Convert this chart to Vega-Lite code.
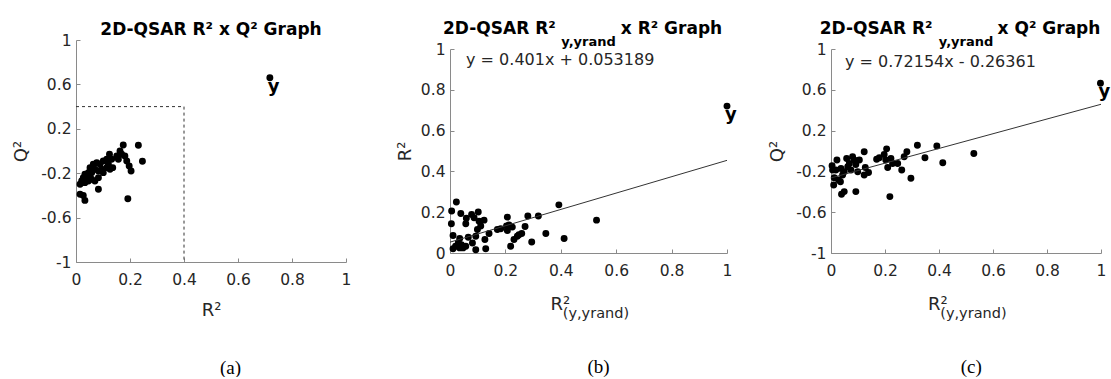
{
  "$schema": "https://vega.github.io/schema/vega-lite/v6.json",
  "background": "white",
  "padding": {"left": 12, "top": 20, "right": 0, "bottom": 0},
  "autosize": {"type": "pad"},
  "bounds": "flush",
  "center": true,
  "spacing": 104,
  "datasets": {
    "a": [
      {"r2": 0.175, "q2": 0.054}, {"r2": 0.231, "q2": 0.051}, {"r2": 0.246, "q2": -0.093}, {"r2": 0.163, "q2": 0.0},
      {"r2": 0.169, "q2": -0.03}, {"r2": 0.181, "q2": -0.045}, {"r2": 0.188, "q2": -0.09}, {"r2": 0.197, "q2": -0.135},
      {"r2": 0.204, "q2": -0.18}, {"r2": 0.192, "q2": -0.43}, {"r2": 0.124, "q2": -0.03}, {"r2": 0.132, "q2": -0.075},
      {"r2": 0.114, "q2": -0.075}, {"r2": 0.101, "q2": -0.09}, {"r2": 0.136, "q2": -0.15}, {"r2": 0.12, "q2": -0.12},
      {"r2": 0.089, "q2": -0.12}, {"r2": 0.077, "q2": -0.105}, {"r2": 0.064, "q2": -0.12}, {"r2": 0.095, "q2": -0.165},
      {"r2": 0.101, "q2": -0.195}, {"r2": 0.07, "q2": -0.165}, {"r2": 0.052, "q2": -0.15}, {"r2": 0.046, "q2": -0.195},
      {"r2": 0.033, "q2": -0.21}, {"r2": 0.027, "q2": -0.24}, {"r2": 0.021, "q2": -0.27}, {"r2": 0.033, "q2": -0.285},
      {"r2": 0.046, "q2": -0.27}, {"r2": 0.058, "q2": -0.255}, {"r2": 0.07, "q2": -0.27}, {"r2": 0.015, "q2": -0.3},
      {"r2": 0.04, "q2": -0.225}, {"r2": 0.083, "q2": -0.345}, {"r2": 0.015, "q2": -0.39}, {"r2": 0.027, "q2": -0.4},
      {"r2": 0.033, "q2": -0.445}, {"r2": 0.058, "q2": -0.195}, {"r2": 0.083, "q2": -0.18}, {"r2": 0.114, "q2": -0.15},
      {"r2": 0.151, "q2": -0.045}, {"r2": 0.157, "q2": -0.075}, {"r2": 0.126, "q2": -0.165}, {"r2": 0.083, "q2": -0.24},
      {"r2": 0.718, "q2": 0.66, "label": "y"}
    ],
    "aBox": [
      {"r2": 0.0, "q2": 0.4, "o": 1}, {"r2": 0.4, "q2": 0.4, "o": 2}, {"r2": 0.4, "q2": -1.0, "o": 3}
    ],
    "b": [
      {"rr": 0.006, "r2": 0.206}, {"rr": 0.023, "r2": 0.25}, {"rr": 0.005, "r2": 0.143}, {"rr": 0.011, "r2": 0.086},
      {"rr": 0.011, "r2": 0.021}, {"rr": 0.039, "r2": 0.194}, {"rr": 0.059, "r2": 0.17}, {"rr": 0.057, "r2": 0.143},
      {"rr": 0.078, "r2": 0.189}, {"rr": 0.087, "r2": 0.173}, {"rr": 0.102, "r2": 0.201}, {"rr": 0.105, "r2": 0.156},
      {"rr": 0.099, "r2": 0.115}, {"rr": 0.093, "r2": 0.082}, {"rr": 0.081, "r2": 0.049}, {"rr": 0.093, "r2": 0.016},
      {"rr": 0.066, "r2": 0.077}, {"rr": 0.035, "r2": 0.071}, {"rr": 0.041, "r2": 0.041}, {"rr": 0.03, "r2": 0.051},
      {"rr": 0.047, "r2": 0.025}, {"rr": 0.02, "r2": 0.033}, {"rr": 0.035, "r2": 0.025}, {"rr": 0.057, "r2": 0.033},
      {"rr": 0.123, "r2": 0.161}, {"rr": 0.126, "r2": 0.066}, {"rr": 0.129, "r2": 0.021}, {"rr": 0.141, "r2": 0.096},
      {"rr": 0.111, "r2": 0.132}, {"rr": 0.171, "r2": 0.115}, {"rr": 0.183, "r2": 0.119}, {"rr": 0.207, "r2": 0.176},
      {"rr": 0.204, "r2": 0.132}, {"rr": 0.213, "r2": 0.137}, {"rr": 0.207, "r2": 0.11}, {"rr": 0.219, "r2": 0.033},
      {"rr": 0.225, "r2": 0.127}, {"rr": 0.231, "r2": 0.066}, {"rr": 0.243, "r2": 0.082}, {"rr": 0.259, "r2": 0.096},
      {"rr": 0.271, "r2": 0.13}, {"rr": 0.281, "r2": 0.181}, {"rr": 0.295, "r2": 0.054}, {"rr": 0.319, "r2": 0.181},
      {"rr": 0.346, "r2": 0.096}, {"rr": 0.393, "r2": 0.236}, {"rr": 0.412, "r2": 0.071}, {"rr": 0.529, "r2": 0.161},
      {"rr": 0.249, "r2": 0.09},
      {"rr": 1.0, "r2": 0.72, "label": "y"}
    ],
    "bLine": [{"rr": 0.0, "r2": 0.053189}, {"rr": 1.0, "r2": 0.454189}],
    "bEq": [{"rr": 0.058, "r2": 0.92, "t": "y = 0.401x + 0.053189"}],
    "c": [
      {"rr": 0.004, "q2": -0.145}, {"rr": 0.006, "q2": -0.187}, {"rr": 0.022, "q2": -0.089}, {"rr": 0.012, "q2": -0.262},
      {"rr": 0.01, "q2": -0.333}, {"rr": 0.028, "q2": -0.285}, {"rr": 0.035, "q2": -0.301}, {"rr": 0.037, "q2": -0.171},
      {"rr": 0.043, "q2": -0.236}, {"rr": 0.049, "q2": -0.203}, {"rr": 0.039, "q2": -0.424}, {"rr": 0.049, "q2": -0.398},
      {"rr": 0.058, "q2": -0.073}, {"rr": 0.062, "q2": -0.154}, {"rr": 0.068, "q2": -0.122}, {"rr": 0.08, "q2": -0.057},
      {"rr": 0.086, "q2": -0.089}, {"rr": 0.074, "q2": -0.187}, {"rr": 0.092, "q2": -0.132}, {"rr": 0.099, "q2": -0.203},
      {"rr": 0.092, "q2": -0.398}, {"rr": 0.105, "q2": -0.089}, {"rr": 0.123, "q2": -0.008}, {"rr": 0.127, "q2": -0.161},
      {"rr": 0.123, "q2": -0.236}, {"rr": 0.139, "q2": -0.21}, {"rr": 0.169, "q2": -0.08}, {"rr": 0.179, "q2": -0.067},
      {"rr": 0.197, "q2": -0.034}, {"rr": 0.206, "q2": 0.021}, {"rr": 0.21, "q2": -0.161}, {"rr": 0.222, "q2": -0.073},
      {"rr": 0.228, "q2": -0.122}, {"rr": 0.247, "q2": -0.122}, {"rr": 0.262, "q2": -0.187}, {"rr": 0.271, "q2": -0.057},
      {"rr": 0.281, "q2": -0.008}, {"rr": 0.296, "q2": -0.268}, {"rr": 0.32, "q2": 0.057}, {"rr": 0.348, "q2": -0.067},
      {"rr": 0.392, "q2": 0.05}, {"rr": 0.414, "q2": -0.115}, {"rr": 0.529, "q2": -0.024}, {"rr": 0.218, "q2": -0.447},
      {"rr": 0.203, "q2": -0.089}, {"rr": 0.018, "q2": -0.187},
      {"rr": 0.998, "q2": 0.665, "label": "y"}
    ],
    "cLine": [{"rr": 0.0, "q2": -0.26361}, {"rr": 1.0, "q2": 0.45793}],
    "cEq": [{"rr": 0.052, "q2": 0.824, "t": "y = 0.72154x - 0.26361"}]
  },
  "hconcat": [
    {
      "width": 270, "height": 222,
      "title": {"text": "2D-QSAR R² x Q² Graph", "offset": -6},
      "resolve": {"axis": {"x": "independent"}},
      "layer": [
        {
          "data": {"name": "a"},
          "mark": {"type": "circle", "size": 48, "color": "#000", "opacity": 1},
          "encoding": {
            "x": {"field": "r2", "type": "quantitative", "scale": {"domain": [0, 1], "nice": false, "zero": false},
                  "axis": {"orient": "bottom", "values": [0, 0.2, 0.4, 0.6, 0.8, 1], "labelExpr": "'' + datum.value", "labelPadding": 14, "title": "R²", "titlePadding": 14}},
            "y": {"field": "q2", "type": "quantitative", "scale": {"domain": [-1, 1], "nice": false, "zero": false},
                  "axis": {"values": [-1, -0.6, -0.2, 0.2, 0.6, 1], "labelExpr": "'' + datum.value", "labelPadding": 9, "title": "Q²", "titlePadding": 10}}
          }
        },
        {
          "data": {"name": "aBox"},
          "mark": {"type": "line", "color": "#333", "strokeWidth": 1, "strokeDash": [3, 3]},
          "encoding": {
            "x": {"field": "r2", "type": "quantitative",
                  "axis": {"orient": "bottom", "labels": false, "ticks": false, "domain": false, "title": "\u200b\u00a0\u00a0\u00a0\u00a0\u00a0\u00a0\u00a0\u00a0(a)", "titleFont": "Liberation Serif", "titleFontSize": 19, "titleColor": "#000", "titlePadding": 96}},
            "y": {"field": "q2", "type": "quantitative"},
            "order": {"field": "o", "type": "quantitative"}
          }
        },
        {
          "data": {"name": "a"},
          "transform": [{"filter": "datum.label == 'y'"}],
          "mark": {"type": "text", "align": "left", "baseline": "alphabetic", "dx": -2, "dy": 14, "font": "DejaVu Sans", "fontSize": 18, "fontWeight": "bold", "color": "#000"},
          "encoding": {
            "x": {"field": "r2", "type": "quantitative", "axis": null},
            "y": {"field": "q2", "type": "quantitative"},
            "text": {"field": "label"}
          }
        }
      ]
    },
    {
      "width": 277, "height": 204,
      "title": {"text": "2D-QSAR R²\u00a0\u00a0\u00a0\u00a0\u00a0\u00a0\u00a0\u00a0\u00a0\u00a0\u00a0x R² Graph\u00a0\u00a0\u200b", "subtitle": "y,yrand", "offset": -8, "subtitlePadding": -2},
      "resolve": {"axis": {"x": "independent"}},
      "layer": [
        {
          "data": {"name": "b"},
          "mark": {"type": "circle", "size": 48, "color": "#000", "opacity": 1},
          "encoding": {
            "x": {"field": "rr", "type": "quantitative", "scale": {"domain": [0, 1], "nice": false, "zero": false},
                  "axis": {"orient": "bottom", "values": [0, 0.2, 0.4, 0.6, 0.8, 1], "labelExpr": "'' + datum.value", "labelPadding": 14, "title": "R²\u00a0\u00a0\u00a0\u00a0\u00a0\u00a0\u00a0\u00a0\u00a0\u00a0\u200b", "titlePadding": 17}},
            "y": {"field": "r2", "type": "quantitative", "scale": {"domain": [0, 1], "nice": false, "zero": false},
                  "axis": {"values": [0, 0.2, 0.4, 0.6, 0.8, 1], "labelExpr": "'' + datum.value", "labelPadding": 9, "title": "R²", "titlePadding": 6}}
          }
        },
        {
          "data": {"name": "bLine"},
          "mark": {"type": "line", "color": "#333", "strokeWidth": 1},
          "encoding": {
            "x": {"field": "rr", "type": "quantitative",
                  "axis": {"orient": "bottom", "labels": false, "ticks": false, "domain": false, "title": "\u200b\u00a0\u00a0\u00a0(y,yrand)", "titleFontSize": 14.5, "titlePadding": 53}},
            "y": {"field": "r2", "type": "quantitative"}
          }
        },
        {
          "data": {"name": "bEq"},
          "mark": {"type": "text", "align": "left", "baseline": "alphabetic", "font": "DejaVu Sans", "fontSize": 16, "color": "#262626"},
          "encoding": {
            "x": {"field": "rr", "type": "quantitative",
                  "axis": {"orient": "bottom", "labels": false, "ticks": false, "domain": false, "title": "\u200b\u00a0\u00a0\u00a0\u00a0(b)", "titleFont": "Liberation Serif", "titleFontSize": 19, "titleColor": "#000", "titlePadding": 104}},
            "y": {"field": "r2", "type": "quantitative"},
            "text": {"field": "t"}
          }
        },
        {
          "data": {"name": "b"},
          "transform": [{"filter": "datum.label == 'y'"}],
          "mark": {"type": "text", "align": "left", "baseline": "alphabetic", "dx": -2, "dy": 14, "font": "DejaVu Sans", "fontSize": 18, "fontWeight": "bold", "color": "#000"},
          "encoding": {
            "x": {"field": "rr", "type": "quantitative", "axis": null},
            "y": {"field": "r2", "type": "quantitative"},
            "text": {"field": "label"}
          }
        }
      ]
    },
    {
      "width": 270, "height": 204,
      "title": {"text": "2D-QSAR R²\u00a0\u00a0\u00a0\u00a0\u00a0\u00a0\u00a0\u00a0\u00a0\u00a0\u00a0x Q² Graph\u00a0\u00a0\u200b", "subtitle": "y,yrand", "offset": -8, "subtitlePadding": -2},
      "resolve": {"axis": {"x": "independent"}},
      "layer": [
        {
          "data": {"name": "c"},
          "mark": {"type": "circle", "size": 48, "color": "#000", "opacity": 1},
          "encoding": {
            "x": {"field": "rr", "type": "quantitative", "scale": {"domain": [0, 1], "nice": false, "zero": false},
                  "axis": {"orient": "bottom", "values": [0, 0.2, 0.4, 0.6, 0.8, 1], "labelExpr": "'' + datum.value", "labelPadding": 14, "title": "R²\u00a0\u00a0\u00a0\u00a0\u00a0\u00a0\u00a0\u00a0\u00a0\u00a0\u200b", "titlePadding": 17}},
            "y": {"field": "q2", "type": "quantitative", "scale": {"domain": [-1, 1], "nice": false, "zero": false},
                  "axis": {"values": [-1, -0.6, -0.2, 0.2, 0.6, 1], "labelExpr": "'' + datum.value", "labelPadding": 9, "title": "Q²", "titlePadding": 9}}
          }
        },
        {
          "data": {"name": "cLine"},
          "mark": {"type": "line", "color": "#333", "strokeWidth": 1},
          "encoding": {
            "x": {"field": "rr", "type": "quantitative",
                  "axis": {"orient": "bottom", "labels": false, "ticks": false, "domain": false, "title": "\u200b\u00a0\u00a0\u00a0(y,yrand)", "titleFontSize": 14.5, "titlePadding": 53}},
            "y": {"field": "q2", "type": "quantitative"}
          }
        },
        {
          "data": {"name": "cEq"},
          "mark": {"type": "text", "align": "left", "baseline": "alphabetic", "font": "DejaVu Sans", "fontSize": 16, "color": "#262626"},
          "encoding": {
            "x": {"field": "rr", "type": "quantitative",
                  "axis": {"orient": "bottom", "labels": false, "ticks": false, "domain": false, "title": "\u200b\u00a0\u00a0(c)", "titleFont": "Liberation Serif", "titleFontSize": 19, "titleColor": "#000", "titlePadding": 104}},
            "y": {"field": "q2", "type": "quantitative"},
            "text": {"field": "t"}
          }
        },
        {
          "data": {"name": "c"},
          "transform": [{"filter": "datum.label == 'y'"}],
          "mark": {"type": "text", "align": "left", "baseline": "alphabetic", "dx": -2, "dy": 14, "font": "DejaVu Sans", "fontSize": 18, "fontWeight": "bold", "color": "#000"},
          "encoding": {
            "x": {"field": "rr", "type": "quantitative", "axis": null},
            "y": {"field": "q2", "type": "quantitative"},
            "text": {"field": "label"}
          }
        }
      ]
    }
  ],
  "config": {
    "view": {"stroke": null},
    "font": "DejaVu Sans",
    "axis": {
      "grid": false, "domainColor": "#8a8a8a", "tickColor": "#8a8a8a", "tickSize": -4,
      "labelFont": "DejaVu Sans", "labelFontSize": 15.5, "labelColor": "#262626",
      "labelFlush": false, "labelOverlap": false,
      "titleFont": "DejaVu Sans", "titleFontSize": 18, "titleFontWeight": "normal", "titleColor": "#262626"
    },
    "title": {
      "font": "DejaVu Sans", "fontSize": 17, "fontWeight": "bold", "color": "#000", "anchor": "middle",
      "subtitleFont": "DejaVu Sans", "subtitleFontSize": 13, "subtitleFontWeight": "bold",
      "subtitleColor": "#000"
    }
  }
}
